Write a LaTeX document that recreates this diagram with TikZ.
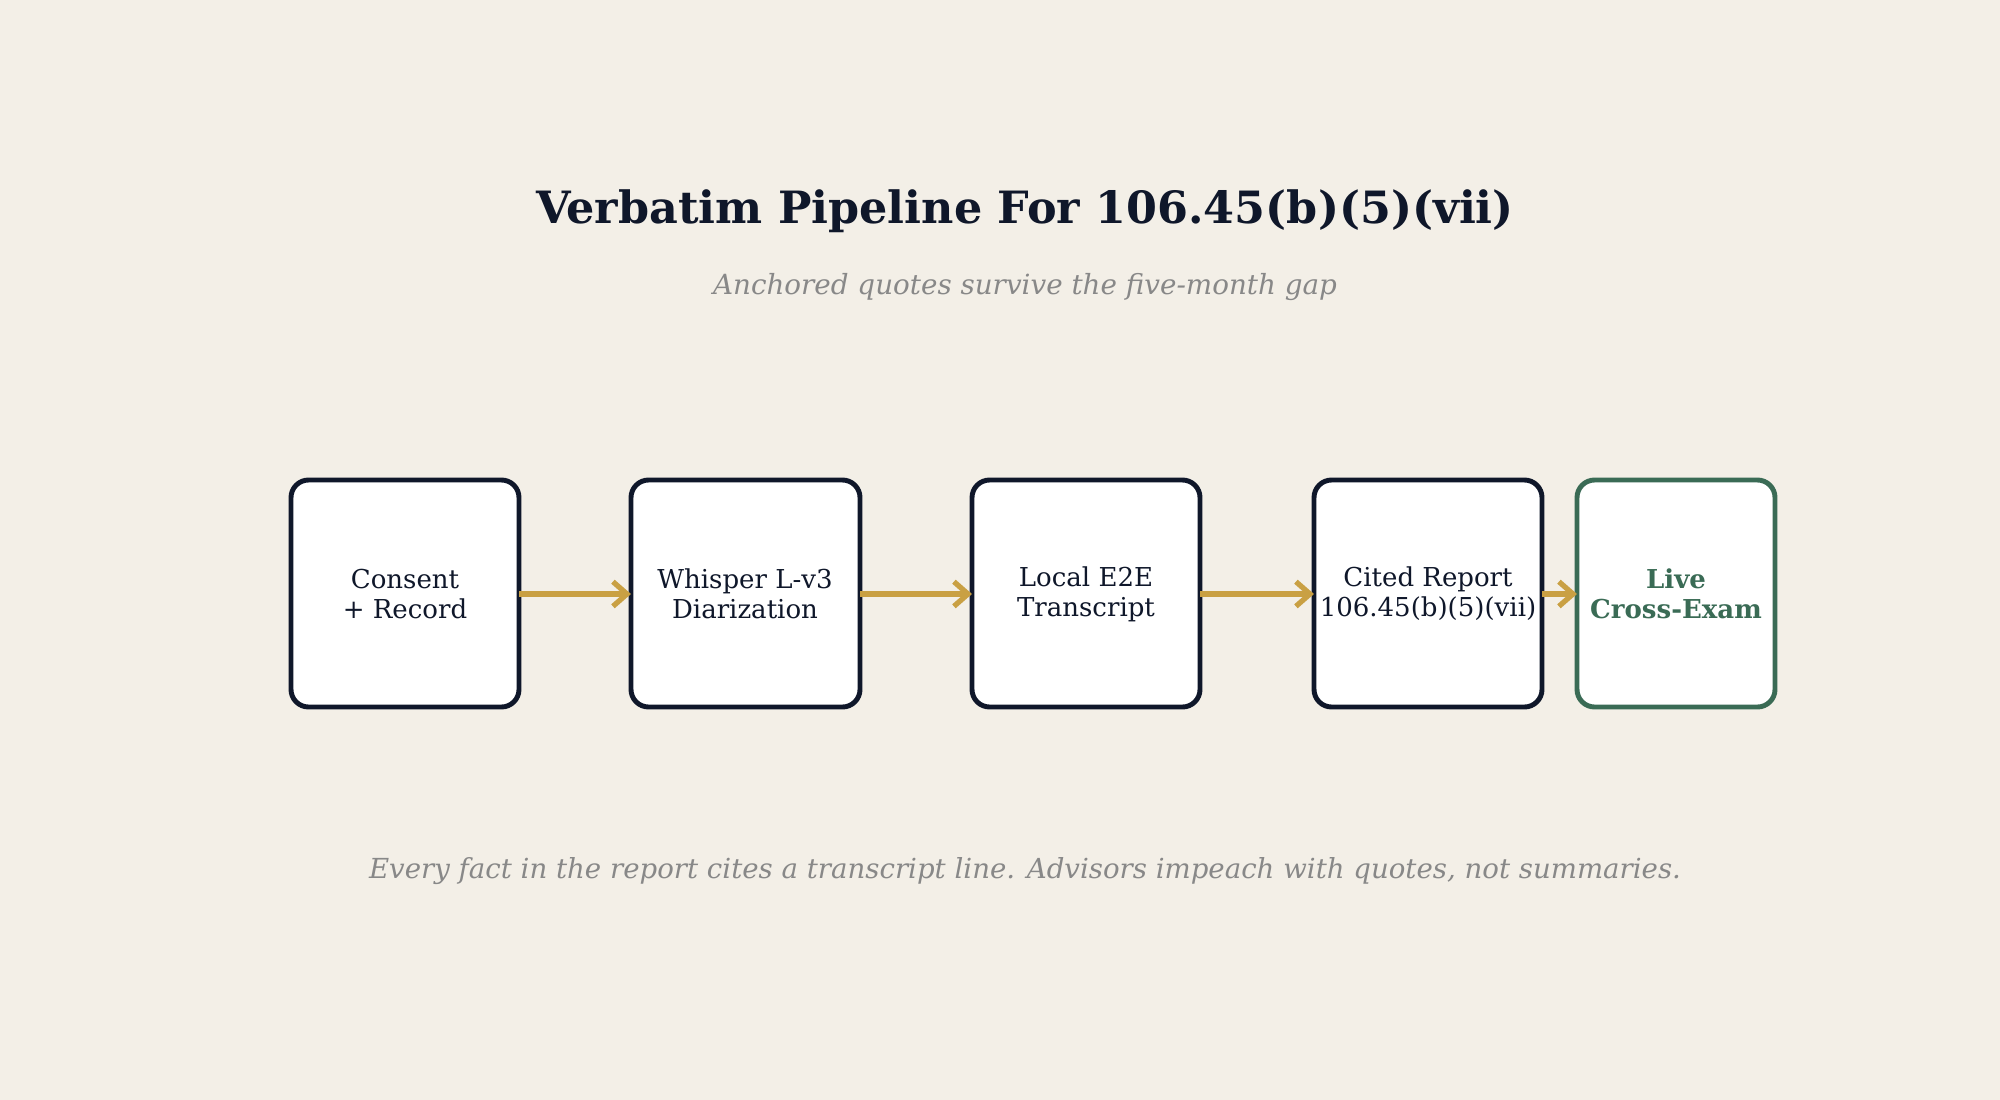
\documentclass[tikz,border=0pt]{standalone}
\usepackage{fontspec}
\setmainfont{DejaVu Serif}
\usetikzlibrary{arrows.meta}
\definecolor{bg}{HTML}{F3EFE7}
\definecolor{ink}{HTML}{0F172A}
\definecolor{grn}{HTML}{3A6B55}
\definecolor{gold}{HTML}{C9A043}
\definecolor{gry}{HTML}{888888}
\begin{document}
\begin{tikzpicture}[x=0.01cm,y=-0.01cm,
  bx/.style={draw=ink,line width=1.4pt,fill=white,rounded corners=5pt},
  lbl/.style={text=ink,align=center,font=\fontsize{7.4}{8.6}\selectfont},
  arr/.style={draw=gold,line width=1.5pt,-{Straight Barb[length=4pt,width=7pt]}}]
\fill[bg] (0,0) rectangle (2000,1100);
\useasboundingbox (0,0) rectangle (2000,1100);
\node[font=\fontsize{12.65}{15}\selectfont\bfseries,text=ink] (t) at (1025,211) {Verbatim Pipeline For 106.45(b)(5)(vii)};
\node[font=\fontsize{7.9}{9}\selectfont\itshape,text=gry] (s) at (1025,287) {Anchored quotes survive the five-month gap};
\node[font=\fontsize{7.85}{9}\selectfont\itshape,text=gry] (f) at (1025,871) {Every fact in the report cites a transcript line. Advisors impeach with quotes, not summaries.};
\draw[bx] (291,480) rectangle (519,707); \node[lbl] (a) at (405,594) {Consent\\+ Record};
\draw[bx] (631,480) rectangle (860,707); \node[lbl] (b) at (745,594) {Whisper L-v3\\Diarization};
\draw[bx] (972,480) rectangle (1200,707); \node[lbl] (c) at (1086,594) {Local E2E\\Transcript};
\draw[bx] (1314,480) rectangle (1542,707); \node[lbl] (d) at (1428,594) {Cited Report\\106.45(b)(5)(vii)};
\draw[bx,draw=grn] (1577,480) rectangle (1775,707); \node[lbl,text=grn,font=\fontsize{7.4}{8.6}\selectfont\bfseries] (e) at (1676,594) {Live\\Cross-Exam};
\coordinate (a1) at (519,594); \coordinate (b0) at (631,594);
\coordinate (b1) at (860,594); \coordinate (c0) at (972,594);
\coordinate (c1) at (1200,594); \coordinate (d0) at (1314,594);
\coordinate (d1) at (1542,594); \coordinate (e0) at (1577,594);
\draw[arr] (a1) -- (b0); \draw[arr] (b1) -- (c0); \draw[arr] (c1) -- (d0); \draw[arr] (d1) -- (e0);
\end{tikzpicture}
\end{document}
